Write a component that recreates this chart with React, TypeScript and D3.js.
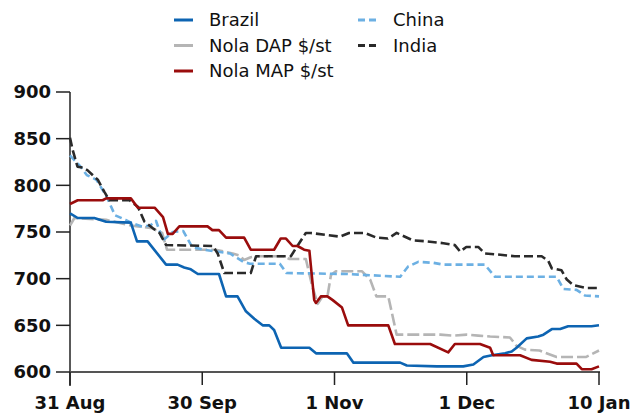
import * as d3 from "d3";

// x = day index from 31 Aug (ticks are evenly spaced, 30 units apart)
const tickDays = [0, 30, 60, 90, 120];
const tickLabels = ["31 Aug", "30 Sep", "1 Nov", "1 Dec", "10 Jan"];
const yTicks = [600, 650, 700, 750, 800, 850, 900];

const brazil: [number, number][] = [
  [0, 770], [1.75, 765], [5.5, 765], [8.2, 761], [13.8, 760], [15.2, 740],
  [17.6, 740], [21.8, 715], [24.4, 715], [25.9, 712], [27.4, 710], [29, 705],
  [33.8, 705], [35.4, 681], [38, 681], [39.9, 665], [41.8, 657], [43.7, 650],
  [45.2, 650], [46.3, 645], [47.9, 626], [54.3, 626], [55.8, 620], [62.8, 620],
  [64.3, 610], [74.9, 610], [76.4, 607], [83.2, 606], [89.2, 606], [91.5, 608],
  [93.8, 616], [95.7, 618], [98.7, 620], [100.2, 622], [101.3, 626], [103.6, 636],
  [106.2, 638], [107.4, 640], [109.3, 646], [111.2, 646], [113, 649], [118.3, 649],
  [120, 650],
];

const nolaDap: [number, number][] = [
  [0, 757], [1, 765], [8.2, 763], [13.8, 757], [15.4, 756], [18.6, 754],
  [20.9, 749], [22, 731], [33, 731], [36.9, 727], [38.4, 725], [39.5, 720],
  [41, 723], [42.5, 724], [48.6, 724], [49.8, 721], [53.5, 721], [55, 691],
  [56.2, 673], [57.3, 681], [58.4, 681], [59.2, 704], [60.3, 708], [66.2, 708],
  [68.1, 699], [69.5, 681], [72.2, 681], [74.1, 640], [84, 640], [87, 639],
  [90, 640], [92.6, 639], [95.3, 638], [99.8, 637], [101.3, 628], [103.2, 624],
  [106.5, 623], [110.4, 616], [117, 616], [120, 623],
];

const nolaMap: [number, number][] = [
  [0, 780], [1.75, 784], [7.4, 784], [8.2, 786], [13.8, 786], [15.4, 776],
  [19.2, 776], [21.1, 766], [22.2, 748], [23.3, 748], [24.8, 756], [31.2, 756],
  [32.3, 752], [33.8, 752], [35.4, 744], [39.5, 744], [41, 731], [46.3, 731],
  [47.8, 743], [49, 743], [50.5, 735], [51.6, 735], [53.1, 731], [54.3, 730],
  [55.4, 677], [55.8, 674], [56.9, 681], [58.4, 681], [59.6, 677], [61.7, 669],
  [63.1, 650], [72.2, 650], [73.7, 630], [81.7, 630], [85.8, 621], [87.3, 630],
  [93, 630], [95.3, 626], [96, 618], [102.1, 618], [104.7, 613], [108.9, 611],
  [110.4, 609], [114.9, 609], [116.1, 603], [118.3, 603], [120, 606],
];

const china: [number, number][] = [
  [0, 832], [1.2, 826], [2.4, 820], [3.8, 811], [6, 806], [8.3, 788],
  [10.2, 768], [12.6, 763], [14.3, 759], [16.3, 756], [18.2, 757], [19.5, 762],
  [21.1, 741], [23.3, 750], [25.7, 751], [27.7, 734], [30.3, 731], [36.3, 727],
  [39.3, 718], [40.8, 716], [47.6, 716], [49.1, 706], [62.8, 705], [74.9, 702],
  [76.7, 713], [79, 718], [82.4, 717], [84.7, 715], [94.1, 715], [96.4, 702],
  [110.4, 702], [111.9, 689], [114.9, 688], [116.8, 682], [120, 681],
];

const india: [number, number][] = [
  [0, 851], [0.6, 838], [1.7, 820], [2.9, 819], [4, 816], [6.3, 806],
  [7.8, 793], [8.9, 784], [13.5, 784], [15.4, 777], [16.9, 761], [18.8, 754],
  [20.3, 749], [21.8, 736], [32.4, 735], [33.5, 727], [35, 706], [41, 706],
  [42.2, 724], [50.1, 724], [51.3, 733], [53.5, 749], [54.6, 749], [61.2, 745],
  [63.3, 749], [66.9, 749], [69.5, 744], [72.1, 743], [74.1, 749], [77.8, 741],
  [80.9, 740], [84.7, 738], [87.3, 736], [88.5, 729], [89.9, 734], [92.6, 734],
  [94.1, 727], [96.8, 726], [100.9, 724], [107, 724], [108.5, 719], [109.3, 711],
  [111.5, 709], [112.7, 699], [114.2, 693], [117.2, 690], [120, 690],
];

// dash = line style in the plot, legendDash = style of the legend sample
const series = [
  { name: "Nola DAP $/st", data: nolaDap, color: "#b5b5b5", dash: "12,4", legendDash: null },
  { name: "China", data: china, color: "#6cb0e3", dash: "7,4", legendDash: "7,4" },
  { name: "India", data: india, color: "#2a2a2a", dash: "9,4", legendDash: "7,4" },
  { name: "Brazil", data: brazil, color: "#0d64b2", dash: null, legendDash: null },
  { name: "Nola MAP $/st", data: nolaMap, color: "#9a0c0c", dash: null, legendDash: null },
];

const legendItems = [
  { name: "Brazil", col: 0, row: 0 },
  { name: "Nola DAP $/st", col: 0, row: 1 },
  { name: "Nola MAP $/st", col: 0, row: 2 },
  { name: "China", col: 1, row: 0 },
  { name: "India", col: 1, row: 1 },
];

const W = 644;
const H = 414;
const font = "'DejaVu Sans', Verdana, sans-serif";

export default function App() {
  const x = d3.scaleLinear().domain([0, 120]).range([70, 599]);
  const y = d3.scaleLinear().domain([600, 900]).range([372, 92]);
  const line = d3
    .line<[number, number]>()
    .x((d) => x(d[0]))
    .y((d) => y(d[1]));

  return (
    <svg
      width={W}
      height={H}
      style={{ position: "absolute", left: 0, top: 0, background: "#fff" }}
      fontFamily={font}
    >
      {/* legend */}
      {legendItems.map((it) => {
        const s = series.find((d) => d.name === it.name)!;
        const lx = it.col === 0 ? 174 : 358;
        const ly = 20 + it.row * 25.5;
        return (
          <g key={it.name}>
            <line
              x1={lx}
              x2={lx + 19}
              y1={ly}
              y2={ly}
              stroke={s.color}
              strokeWidth={3}
              strokeDasharray={s.legendDash ?? undefined}
            />
            <text x={lx + 35} y={ly} dy="0.35em" fontSize={18} fill="#111">
              {it.name}
            </text>
          </g>
        );
      })}

      {/* y axis */}
      <line x1={70} x2={70} y1={y(900)} y2={386} stroke="#222" strokeWidth={1.5} />
      {yTicks.map((t) => (
        <g key={t}>
          <line x1={56} x2={70} y1={y(t)} y2={y(t)} stroke="#222" strokeWidth={1.5} />
          <text
            x={51}
            y={y(t)}
            dy="0.36em"
            textAnchor="end"
            fontSize={18}
            fontWeight="bold"
            fill="#111"
          >
            {t}
          </text>
        </g>
      ))}

      {/* series */}
      {series.map((s) => (
        <path
          key={s.name}
          d={line(s.data) ?? ""}
          fill="none"
          stroke={s.color}
          strokeWidth={2.6}
          strokeDasharray={s.dash ?? undefined}
          strokeLinejoin="round"
        />
      ))}

      {/* x axis */}
      <line x1={70} x2={600} y1={372} y2={372} stroke="#555" strokeWidth={2} />
      {tickDays.map((t, i) => (
        <g key={t}>
          <line x1={x(t)} x2={x(t)} y1={372} y2={385} stroke="#222" strokeWidth={1.5} />
          <text
            x={x(t)}
            y={403}
            dy="0.35em"
            textAnchor="middle"
            fontSize={18}
            fontWeight="bold"
            fill="#111"
          >
            {tickLabels[i]}
          </text>
        </g>
      ))}
    </svg>
  );
}
